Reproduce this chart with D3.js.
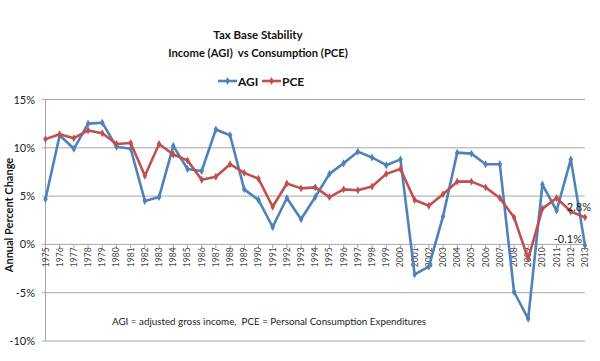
<!DOCTYPE html>
<html><head><meta charset="utf-8">
<script src="https://cdn.jsdelivr.net/npm/d3@7"></script>
<style>body{margin:0;background:#fff}svg{display:block}text{font-family:Lato,"Open Sans",sans-serif;white-space:pre}</style>
</head><body><svg id="c" width="600" height="361"></svg>
<script>
const years = d3.range(1975, 2014).map(String);
const agi = [4.7,11.3,9.9,12.5,12.6,10.1,9.9,4.5,4.9,10.2,7.8,7.6,11.9,11.3,5.7,4.6,1.8,4.8,2.6,4.9,7.3,8.4,9.6,9.0,8.2,8.8,-3.1,-2.3,2.9,9.5,9.4,8.3,8.3,-4.9,-7.7,6.2,3.5,8.8,-0.1];
const pce = [10.9,11.4,11.0,11.8,11.5,10.4,10.5,7.1,10.4,9.3,8.7,6.7,7.0,8.3,7.4,6.8,3.9,6.3,5.8,5.9,4.9,5.7,5.6,6.0,7.3,7.8,4.6,4.0,5.2,6.5,6.5,5.9,4.8,2.8,-1.5,3.7,4.8,3.4,2.8];
const yTicks = [15,10,5,0,-5,-10];
const seriesNames = ["AGI","PCE"];
const colors = ["#4F81BD","#C0504D"];

const svg = d3.select("#c");
const x = d3.scalePoint().domain(years).range([45.5,585]);
const y = d3.scaleLinear().domain([-10,15]).range([341,99.5]);

// gridlines
svg.append("g").selectAll("line").data(yTicks).join("line")
  .attr("x1",42).attr("x2",585).attr("y1",d=>y(d)).attr("y2",d=>y(d))
  .attr("stroke","#a6a6a6").attr("stroke-width",1);
// y axis line
svg.append("line").attr("x1",45.5).attr("x2",45.5).attr("y1",y(15)).attr("y2",y(-10)).attr("stroke","#a6a6a6");
// y labels
svg.append("g").selectAll("text").data(yTicks).join("text")
  .attr("x",35).attr("y",d=>y(d)+4).attr("text-anchor","end")
  .attr("font-size",11).attr("fill","#222").text(d=>d+"%");
// x ticks
svg.append("g").selectAll("line").data(years).join("line")
  .attr("x1",d=>x(d)).attr("x2",d=>x(d)).attr("y1",y(0)).attr("y2",y(0)+4)
  .attr("stroke","#a6a6a6");
svg.append("g").selectAll("text").data(years).join("text")
  .attr("transform",d=>`translate(${x(d)+3},${y(0)+3}) rotate(-90)`)
  .attr("text-anchor","end").attr("font-size",8.5).attr("fill","#444").text(d=>d);

// y axis title
svg.append("text").attr("transform","translate(13,215) rotate(-90)").attr("text-anchor","middle")
  .attr("font-size",11).attr("font-weight","bold").attr("fill","#111").text("Annual Percent Change");

// lines
const line = d3.line().x((d,i)=>x(years[i])).y(d=>y(d));
[agi,pce].forEach((s,k)=>{
  svg.append("path").datum(s).attr("d",line).attr("fill","none")
    .attr("stroke",colors[k]).attr("stroke-width",2.6).attr("stroke-linejoin","round");
  svg.append("g").selectAll("path").data(s).join("path")
    .attr("d",d3.symbol().type(d3.symbolDiamond).size(18))
    .attr("transform",(d,i)=>`translate(${x(years[i])},${y(d)})`)
    .attr("fill",colors[k]);
});

// data labels
svg.append("text").attr("x",591).attr("y",211).attr("text-anchor","end").attr("font-size",11).attr("fill","#222").text(pce[pce.length-1].toFixed(1)+"%");
svg.append("text").attr("x",582).attr("y",243).attr("text-anchor","end").attr("font-size",11).attr("fill","#222").text(agi[agi.length-1].toFixed(1)+"%");

// title
svg.append("text").attr("x",258).attr("y",39).attr("text-anchor","middle").attr("font-size",11.5).attr("font-weight","bold").attr("fill","#111").text("Tax Base Stability");
svg.append("text").attr("x",258).attr("y",57).attr("text-anchor","middle").attr("font-size",11.2).attr("font-weight","bold").attr("fill","#111").text("Income (AGI)  vs Consumption (PCE)");

// legend
const lx = [218,262];
seriesNames.forEach((n,k)=>{
  svg.append("line").attr("x1",lx[k]).attr("x2",lx[k]+19).attr("y1",81).attr("y2",81).attr("stroke",colors[k]).attr("stroke-width",2.6);
  svg.append("path").attr("d",d3.symbol().type(d3.symbolDiamond).size(18)).attr("transform",`translate(${lx[k]+9.5},81)`).attr("fill",colors[k]);
  svg.append("text").attr("x",lx[k]+20).attr("y",85.5).attr("font-size",12).attr("font-weight","bold").attr("fill","#111").text(n);
});

// footnote
svg.append("text").attr("x",112).attr("y",325).attr("font-size",9.8).attr("fill","#222")
  .text("AGI = adjusted gross income,  PCE = Personal Consumption Expenditures");
</script></body></html>
